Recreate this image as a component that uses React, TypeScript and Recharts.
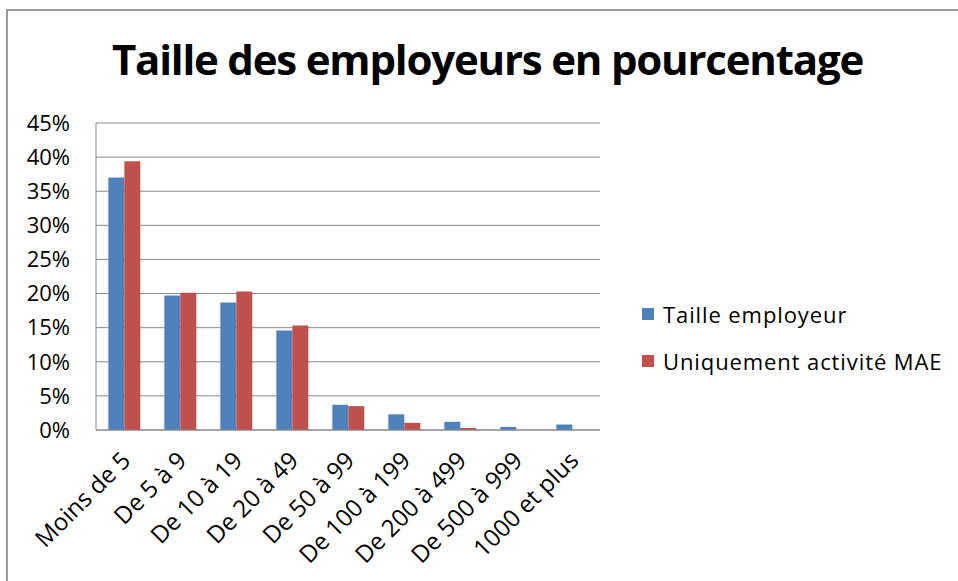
import React from "react";
import { BarChart, Bar, XAxis, YAxis, CartesianGrid, Legend } from "recharts";

const categories = [
  "Moins de 5",
  "De 5 à 9",
  "De 10 à 19",
  "De 20 à 49",
  "De 50 à 99",
  "De 100 à 199",
  "De 200 à 499",
  "De 500 à 999",
  "1000 et plus",
];
const tailleEmployeur = [37.0, 19.7, 18.7, 14.6, 3.7, 2.3, 1.2, 0.45, 0.8];
const activiteMAE = [39.4, 20.1, 20.3, 15.3, 3.5, 1.05, 0.3, 0, 0];
const yTicks = [0, 5, 10, 15, 20, 25, 30, 35, 40, 45];

const seriesNames = ["Taille employeur", "Uniquement activité MAE"];
const colors = ["#4F81BD", "#C0504D"];

const data = categories.map((c, i) => ({
  name: c,
  a: tailleEmployeur[i],
  b: activiteMAE[i],
}));

const FONT = "'Open Sans', 'Liberation Sans', sans-serif";

const XTick = (props: any) => {
  const { x, y, payload } = props;
  const ax = x + 8;
  const ay = y + 24;
  return (
    <text
      x={ax}
      y={ay}
      transform={`rotate(-45, ${ax}, ${ay})`}
      textAnchor="end"
      fontSize={24}
      fontFamily={FONT}
      fill="#000"
    >
      {payload.value}
    </text>
  );
};

const LegendContent = () => (
  <div style={{ fontFamily: FONT, fontSize: 22, letterSpacing: 0.9, color: "#000" }}>
    {seriesNames.map((n, i) => (
      <div
        key={n}
        style={{ display: "flex", alignItems: "center", height: 47, whiteSpace: "nowrap" }}
      >
        <span
          style={{
            display: "inline-block",
            width: 12,
            height: 12,
            background: colors[i],
            marginRight: 9,
          }}
        />
        <span>{n}</span>
      </div>
    ))}
  </div>
);

export default function App() {
  return (
    <div
      style={{
        position: "absolute",
        left: 0,
        top: 0,
        width: 958,
        height: 581,
        background: "#fff",
        overflow: "hidden",
      }}
    >
      <div
        style={{
          position: "absolute",
          left: 6,
          top: 9,
          width: 1000,
          height: 700,
          borderTop: "2px solid #9a9a9a",
          borderLeft: "2px solid #9a9a9a",
        }}
      />
      <div
        style={{
          position: "absolute",
          left: 0,
          top: 30,
          width: 975,
          textAlign: "center",
          fontFamily: FONT,
          fontWeight: 700,
          fontSize: 42,
          letterSpacing: -1.2,
          color: "#000",
          whiteSpace: "nowrap",
        }}
      >
        Taille des employeurs en pourcentage
      </div>
      <div style={{ position: "absolute", left: 0, top: 0 }}>
        <BarChart
          width={958}
          height={581}
          data={data}
          margin={{ top: 123, right: 358, bottom: 0, left: 0 }}
          barCategoryGap="22%"
          barGap={0}
        >
          <CartesianGrid vertical={false} stroke="#888" strokeWidth={1} />
          <XAxis
            dataKey="name"
            interval={0}
            height={151}
            tick={<XTick />}
            tickLine={false}
            axisLine={{ stroke: "#888" }}
          />
          <YAxis
            width={96}
            domain={[0, 45]}
            ticks={yTicks}
            tickFormatter={(v: number) => `${v}%`}
            tick={{ fontSize: 22, fontFamily: FONT, fill: "#000" }}
            tickLine={false}
            tickMargin={20}
            axisLine={{ stroke: "#888" }}
          />
          <Legend
            layout="vertical"
            align="center"
            verticalAlign="middle"
            content={<LegendContent />}
            wrapperStyle={{ left: 642, top: 290, width: 320 }}
          />
          <Bar dataKey="a" name={seriesNames[0]} fill={colors[0]} isAnimationActive={false} />
          <Bar dataKey="b" name={seriesNames[1]} fill={colors[1]} isAnimationActive={false} />
        </BarChart>
      </div>
    </div>
  );
}
